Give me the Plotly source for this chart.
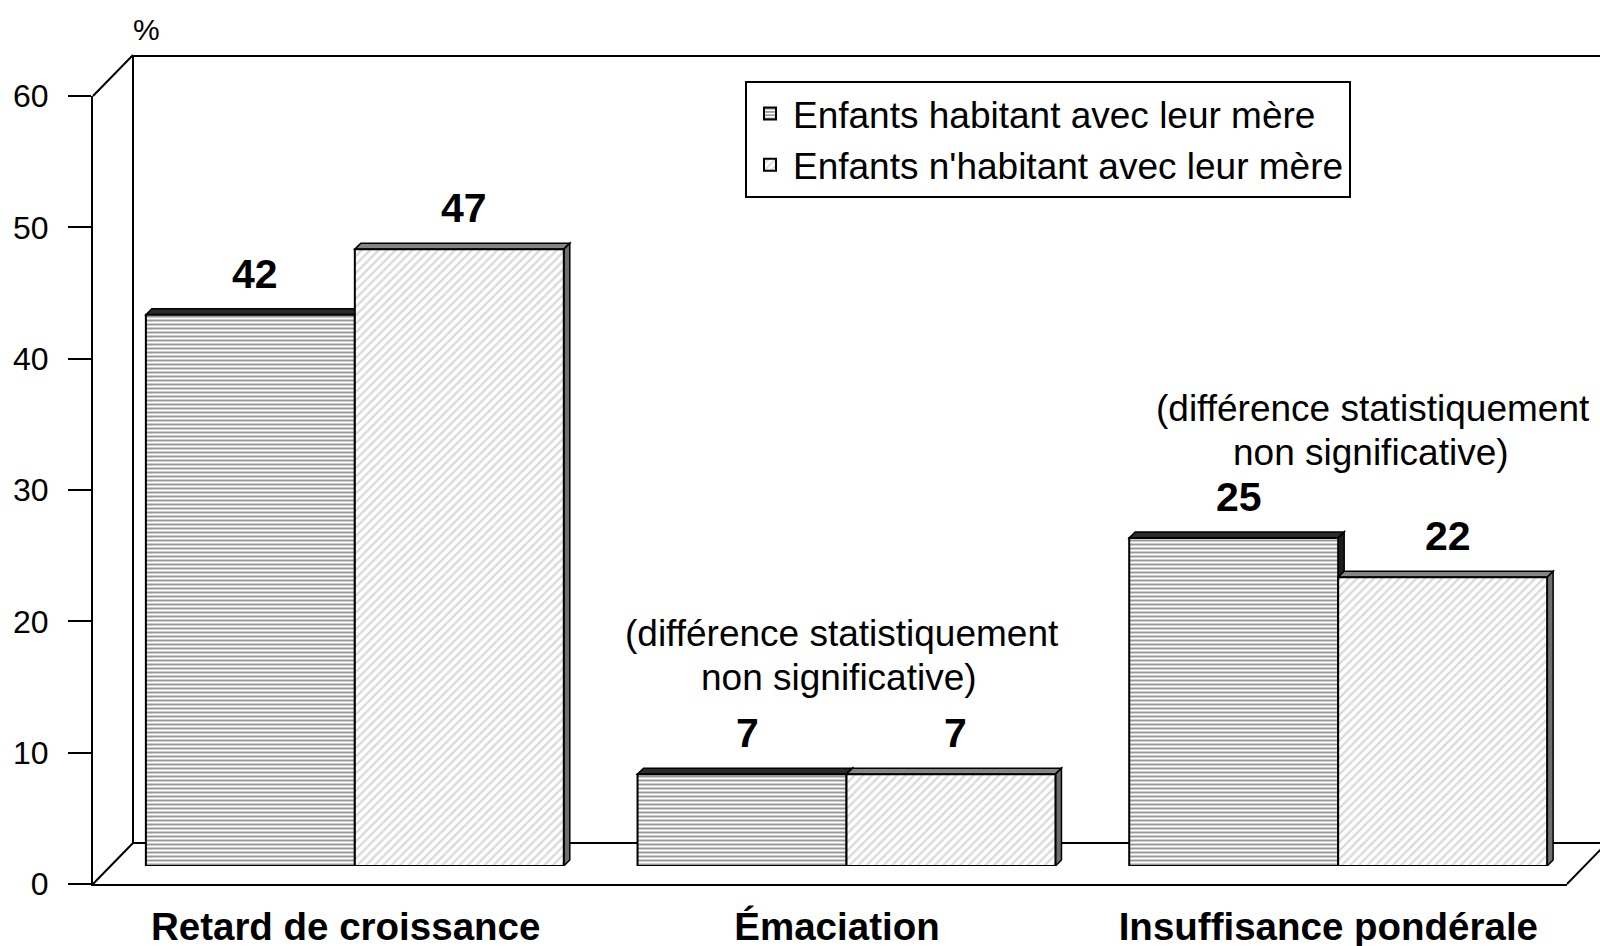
import plotly.graph_objects as go

# ---------------- data ----------------
categories = ["Retard de croissance", "Émaciation", "Insuffisance pondérale"]
series_names = ["Enfants habitant avec leur mère", "Enfants n'habitant avec leur mère"]
with_mother = [42, 7, 25]
without_mother = [47, 7, 22]
y_ticks = [0, 10, 20, 30, 40, 50, 60]
y_unit = "%"
note_lines = ["(différence statistiquement", "non significative)"]
# notes: (category position of each line, y value of each line)
note_positions = [([0.99, 0.984], [17.68, 14.40]), ([2.071, 2.067], [34.82, 31.54])]

# ---------------- geometry (pixels) ----------------
W, H = 1600, 946
L, R, T, B = 93, 1600, 56, 884          # plot area
FRONT_X1 = 1567                          # end of front floor line
FRONT_TOP = 96                           # y pixel of 60 on the front axis
BAR_X0, BAR_X1 = 109, 1584               # plane of the bars
BAR_Y0, BAR_Y60 = 866, 78.5
BACK_DX, BACK_DY = 40, 41                # depth of the 3D box
FACE = 6                                 # depth of bar top/side faces (px)
LABEL_SHIFT = 7                          # category labels sit between front and bar planes
FONT = "Liberation Sans, Arial, sans-serif"

def px(x):
    return (x - L) / (R - L)

def py(y):
    return (B - y) / (B - T)

x_per_unit = (BAR_X1 - BAR_X0) / 3.0
y_per_unit = (BAR_Y0 - BAR_Y60) / 60.0
dxu = FACE / x_per_unit
dyu = FACE / y_per_unit

bargap = 0.15
bw = (1 - bargap) / 2

fig = go.Figure()
fig.add_trace(go.Bar(
    x=list(range(len(categories))), y=with_mother, name=series_names[0],
    marker=dict(color="white", line=dict(color="black", width=2),
                pattern=dict(shape="-", size=4, solidity=0.4, fgcolor="#000000", bgcolor="white", fillmode="overlay")),
    hoverinfo="skip"))
fig.add_trace(go.Bar(
    x=list(range(len(categories))), y=without_mother, name=series_names[1],
    marker=dict(color="white", line=dict(color="black", width=2),
                pattern=dict(shape="/", size=6, solidity=0.4, fgcolor="#b4b4b4", bgcolor="white", fillmode="overlay")),
    hoverinfo="skip"))
# empty trace to hold the front axes
fig.add_trace(go.Scatter(x=[], y=[], xaxis="x2", yaxis="y2", showlegend=False, hoverinfo="skip"))

shapes = []
line_kw = dict(color="black", width=2)
def seg(x0, y0, x1, y1, layer="below"):
    shapes.append(dict(type="line", xref="paper", yref="paper", x0=px(x0), y0=py(y0), x1=px(x1), y1=py(y1),
                       line=line_kw, layer=layer))

seg(L + BACK_DX, T, L + BACK_DX, B - BACK_DY)                    # back wall left edge
seg(L + BACK_DX, T, FRONT_X1 + BACK_DX, T)                       # back wall top
seg(L, FRONT_TOP, L + BACK_DX, FRONT_TOP - BACK_DY)              # top-left diagonal
seg(L, B, L + BACK_DX, B - BACK_DY)                              # bottom-left diagonal
seg(L + BACK_DX, B - BACK_DY, FRONT_X1 + BACK_DX, B - BACK_DY)   # back floor line
seg(FRONT_X1, B, FRONT_X1 + BACK_DX, B - BACK_DY)                # bottom-right diagonal

# 3D faces of bars (data coordinates of the bar plane)
top_cols = ["#2b2b2b", "#858585"]
side_cols = ["#1e1e1e", "#6e6e6e"]
for i in range(len(categories)):
    for s, vals in enumerate([with_mother, without_mother]):
        v = vals[i]
        x0 = i - bw + s * bw
        x1 = x0 + bw
        top = f"M{x0},{v} L{x0+dxu},{v+dyu} L{x1+dxu},{v+dyu} L{x1},{v} Z"
        side = f"M{x1},{v} L{x1+dxu},{v+dyu} L{x1+dxu},{dyu} L{x1},0 Z"
        shapes.append(dict(type="path", xref="x", yref="y", path=top, fillcolor=top_cols[s],
                           line=dict(color="black", width=1.5), layer="below"))
        shapes.append(dict(type="path", xref="x", yref="y", path=side, fillcolor=side_cols[s],
                           line=dict(color="black", width=1.5), layer="below"))

annotations = []
for s, vals in enumerate([with_mother, without_mother]):
    for i, v in enumerate(vals):
        annotations.append(dict(x=i - bw / 2 + s * bw, y=v, xref="x", yref="y", text=str(v),
                                showarrow=False, xshift=5, yshift=41, xanchor="center", yanchor="middle",
                                font=dict(family=FONT, size=41, color="black", weight="bold")))
for (xs, ys) in note_positions:
    for text, xn, yn in zip(note_lines, xs, ys):
        annotations.append(dict(x=xn, y=yn, xref="x", yref="y", text=text, showarrow=False,
                                xanchor="center", yanchor="middle",
                                font=dict(family=FONT, size=37, color="black")))
annotations.append(dict(x=px(146), y=py(29), xref="paper", yref="paper", text=y_unit, showarrow=False,
                        xanchor="center", yanchor="middle",
                        font=dict(family=FONT, size=30, color="black")))

shift = LABEL_SHIFT / ((FRONT_X1 - L) / 3.0)
fig.update_layout(
    width=W, height=H,
    margin=dict(l=L, r=W - R, t=T, b=H - B, pad=0, autoexpand=False),
    paper_bgcolor="white", plot_bgcolor="rgba(0,0,0,0)",
    barmode="group", bargap=bargap, bargroupgap=0,
    font=dict(family=FONT, color="black"),
    xaxis=dict(domain=[px(BAR_X0), px(BAR_X1)], range=[-0.5, 2.5], visible=False, fixedrange=True),
    yaxis=dict(domain=[py(BAR_Y0), py(BAR_Y60)], range=[0, 60], visible=False, fixedrange=True),
    xaxis2=dict(domain=[px(L), px(FRONT_X1)], range=[-0.5 - shift, 2.5 - shift], anchor="y2",
                tickvals=list(range(len(categories))), ticktext=categories,
                showline=True, linecolor="black", linewidth=2, ticks="", showgrid=False, zeroline=False,
                tickfont=dict(family=FONT, size=38.5, color="black", weight="bold"), ticklabelstandoff=8,
                fixedrange=True),
    yaxis2=dict(domain=[0, py(FRONT_TOP)], range=[0, 60], anchor="x2",
                tickvals=y_ticks, showline=True, linecolor="black", linewidth=2,
                ticks="outside", ticklen=23, tickwidth=2, tickcolor="black",
                showgrid=False, zeroline=False, ticklabelstandoff=13,
                tickfont=dict(family=FONT, size=32, color="black"), fixedrange=True),
    legend=dict(x=px(745), y=py(81), xanchor="left", yanchor="top",
                bordercolor="black", borderwidth=2, bgcolor="white",
                font=dict(family=FONT, size=37, color="black"), itemwidth=36, traceorder="normal"),
    shapes=shapes, annotations=annotations,
    showlegend=True,
)

fig.write_html("out.html", config={"displayModeBar": False},
               post_script="document.body.style.margin='0';document.body.style.overflow='hidden';")
